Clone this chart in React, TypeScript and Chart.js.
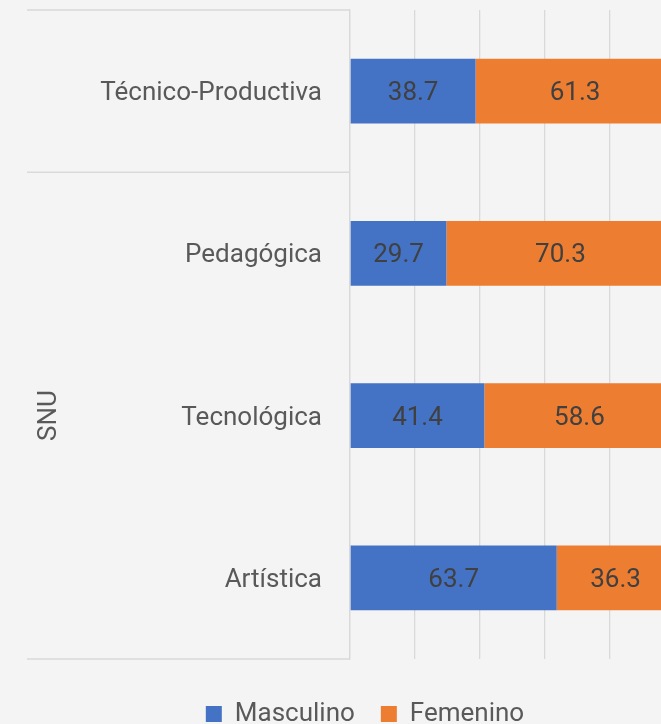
import React, { useEffect, useRef } from "react";
import { Chart, registerables } from "chart.js";

Chart.register(...registerables);

const categories = ["Técnico-Productiva", "Pedagógica", "Tecnológica", "Artística"];
const masculino = [38.7, 29.7, 41.4, 63.7];
const femenino = [61.3, 70.3, 58.6, 36.3];
const seriesNames = ["Masculino", "Femenino"];
const groupLabels = ["", "SNU"];
const groupSpans = [1, 3];
const xTickStep = 20;

const FONT = "Roboto";
const BG = "#f4f4f4";
const GRID = "#d9d9d9";
const TEXT_NUDGE = 2.5;

const dataLabelPlugin = {
  id: "dataLabels",
  afterDatasetsDraw(chart: any) {
    const ctx = chart.ctx;
    ctx.save();
    ctx.font = `26px ${FONT}`;
    ctx.fillStyle = "#404040";
    ctx.textAlign = "center";
    ctx.textBaseline = "middle";
    chart.data.datasets.forEach((ds: any, i: number) => {
      const meta = chart.getDatasetMeta(i);
      meta.data.forEach((bar: any, j: number) => {
        const p = bar.getProps(["x", "base", "y"], true);
        ctx.fillText(Number(ds.data[j]).toFixed(1), (p.x + p.base) / 2, p.y + TEXT_NUDGE);
      });
    });
    ctx.restore();
  },
};

const groupPlugin = {
  id: "groupAxis",
  afterDraw(chart: any) {
    const ctx = chart.ctx;
    const y = chart.scales.y;
    const left = 27;
    const right = chart.chartArea.left;
    const half = (y.getPixelForValue(1) - y.getPixelForValue(0)) / 2;
    ctx.save();
    ctx.strokeStyle = GRID;
    ctx.lineWidth = 1.3;
    let idx = 0;
    groupSpans.forEach((span, g) => {
      const top = y.getPixelForValue(idx) - half;
      const bot = y.getPixelForValue(idx + span - 1) + half;
      ctx.beginPath();
      ctx.moveTo(left, top);
      ctx.lineTo(right, top);
      if (g === groupSpans.length - 1) {
        ctx.moveTo(left, bot);
        ctx.lineTo(right, bot);
      }
      ctx.stroke();
      if (groupLabels[g]) {
        ctx.save();
        ctx.translate(47 + TEXT_NUDGE, (top + bot) / 2);
        ctx.rotate(-Math.PI / 2);
        ctx.font = `26px ${FONT}`;
        ctx.fillStyle = "#595959";
        ctx.textAlign = "center";
        ctx.textBaseline = "middle";
        ctx.fillText(groupLabels[g], 0, 0);
        ctx.restore();
      }
      idx += span;
    });
    ctx.restore();
  },
};

export default function App() {
  const ref = useRef<HTMLCanvasElement>(null);

  useEffect(() => {
    if (!ref.current) return;
    const chart = new Chart(ref.current, {
      type: "bar",
      data: {
        labels: categories,
        datasets: [
          {
            label: seriesNames[0],
            data: masculino,
            backgroundColor: "#4472C4",
            borderWidth: 0,
            barPercentage: 0.4,
            categoryPercentage: 1,
            xAxisID: "x",
            yAxisID: "y",
          },
          {
            label: seriesNames[1],
            data: femenino,
            backgroundColor: "#ED7D31",
            borderWidth: 0,
            barPercentage: 0.4,
            categoryPercentage: 1,
            xAxisID: "x",
            yAxisID: "y",
          },
        ],
      },
      options: {
        indexAxis: "y",
        animation: false,
        responsive: false,
        devicePixelRatio: 1,
        layout: { padding: { top: 10, right: 0, bottom: 0, left: 0 } },
        scales: {
          x: {
            stacked: true,
            min: 0,
            max: 100,
            ticks: { display: false, stepSize: xTickStep },
            grid: { color: GRID, lineWidth: 1.3, drawTicks: false },
            border: { display: false },
            afterFit: (s: any) => {
              s.height = 16;
              s.paddingLeft = 0;
              s.paddingRight = 0;
            },
          },
          y: {
            stacked: true,
            ticks: {
              color: "#595959",
              font: { family: FONT, size: 26 },
              padding: 28,
              labelOffset: TEXT_NUDGE,
            },
            grid: { display: false, drawTicks: false },
            border: { display: true, color: GRID, width: 1.3 },
            afterFit: (s: any) => {
              s.width = 350;
              s.paddingTop = 0;
              s.paddingBottom = 0;
            },
          },
          yRight: {
            type: "category",
            position: "right",
            display: true,
            ticks: { display: false },
            grid: { display: false, drawTicks: false },
            border: { display: false },
            afterFit: (s: any) => {
              s.width = 55.5;
              s.paddingTop = 0;
              s.paddingBottom = 0;
            },
          },
        },
        plugins: {
          legend: {
            position: "bottom",
            labels: {
              boxWidth: 16,
              boxHeight: 16,
              padding: 26,
              color: "#595959",
              font: { family: FONT, size: 26 },
            },
          },
          tooltip: { enabled: false },
        },
      },
      plugins: [dataLabelPlugin, groupPlugin],
    } as any);
    return () => chart.destroy();
  }, []);

  return (
    <div
      style={{
        position: "fixed",
        left: 0,
        top: 0,
        width: 661,
        height: 724,
        overflow: "hidden",
        background: BG,
      }}
    >
      <canvas ref={ref} width={730} height={737} style={{ width: 730, height: 737, display: "block" }} />
    </div>
  );
}
